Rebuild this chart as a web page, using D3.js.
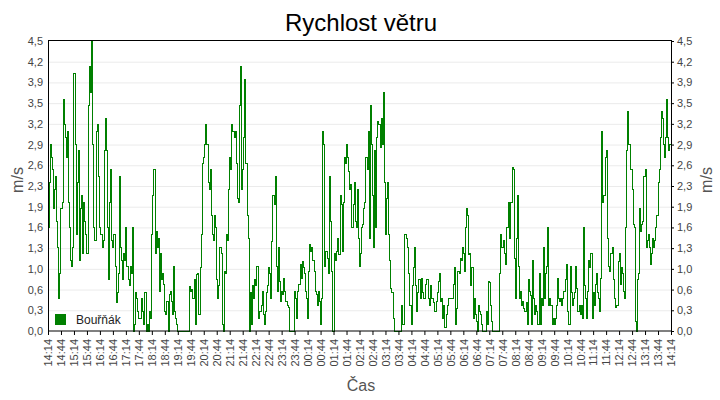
<!DOCTYPE html>
<html>
<head>
    <meta charset="utf-8">
    <title>Rychlost větru</title>
    <script src="https://d3js.org/d3.v7.min.js"></script>
    <style>
        body { margin: 0; background: #fff; }
        .title { font: 24px "Liberation Sans", Arial, sans-serif; fill: #000; }
        .axis-title { font: 16px "Liberation Sans", Arial, sans-serif; fill: #555; }
        .axis text { font: 11px "Liberation Sans", Arial, sans-serif; fill: #444; }
        .legend text { font: 12px "Liberation Sans", Arial, sans-serif; fill: #222; }
    </style>
</head>
<body>
    <svg width="720" height="400"></svg>
    <script>
        // wind speed (m/s), one value every 2.5 minutes from 14:14, split into 4 hour blocks
        var speed1 = [1.6, 2.3, 2.9, 2.7, 2.5, 1.9, 2.2, 2.4, 1.7, 1.3, 0.5, 0.9, 1.9, 2.0, 3.6, 3.2,
                      3.0, 2.7, 3.1, 2.0, 1.6, 1.1, 1.0, 1.3, 4.0, 2.9, 1.5, 2.3, 2.8, 1.1, 1.9, 2.1,
                      1.2, 2.0, 1.7, 1.5, 1.2, 3.5, 4.1, 3.7, 4.5, 2.9, 1.6, 1.4, 1.4, 3.1, 3.2, 2.4,
                      1.6, 1.5, 1.3, 1.4, 2.8, 3.3, 2.8, 1.6, 0.8, 2.0, 2.5, 1.4, 1.3, 1.5, 1.0, 0.45,
                      0.6, 0.9, 2.4, 1.3, 1.1, 0.8, 1.2, 1.1, 1.6, 1.0, 0.8, 0.7, 1.0, 0.9, 1.6, 0.0,
                      0.1, 0.6, 0.5, 0.3, 0.2, 0.2, 0.5, 0.3, 0.1, 0.6, 0.6, 0.0, 0.1, 0.0, 0.3, 0.2];
        var speed2 = [1.5, 2.1, 2.5, 1.2, 1.55, 1.3, 1.44, 0.62, 1.2, 0.8, 0.9, 0.72, 0.3, 0.25, 0.46, 0.0,
                      0.56, 0.62, 0.46, 0.25, 1.0, 0.3, 0.2, 0.1, 0, 0, 0, 0, 0, 0, 0, 0,
                      0, 0, 0, 0.69, 0.62, 0.65, 0.5, 0.8, 0.1, 0.87, 0.9, 0.25, 0.25, 0.98, 1.5, 2.6,
                      2.7, 2.9, 3.2, 2.9, 2.3, 2.2, 2.5, 1.8, 1.5, 1.4, 1.8, 1.6, 0.8, 0.5, 0.7, 1.3,
                      1.2, 0.1, 0.0, 0.93, 0.9, 1.5, 1.4, 2.2, 2.7, 2.5, 3.2, 3.1, 3.0, 3.1, 2.6, 2.06,
                      2.0, 3.5, 4.1, 2.2, 2.5, 3.0, 3.9, 2.6, 1.8, 1.44, 0.0, 0.6, 0.1, 0.7, 0.5, 0.8];
        var speed3 = [0.7, 1.0, 1.0, 0.2, 0.3, 0.4, 0.62, 0.25, 0.1, 0.3, 0.6, 0.7, 0.98, 0.9, 0.5, 1.39,
                      2.1, 1.96, 2.4, 1.0, 0.62, 1.29, 0.77, 0.46, 0.62, 0.56, 0.82, 0.62, 0.46, 0.4, 0.36, 0,
                      0, 0, 0, 0, 0.62, 0.5, 0.2, 0.62, 0.72, 1.03, 0.82, 1.08, 0.98, 0.9, 0.62, 0.5,
                      0.2, 0.93, 1.34, 1.24, 1.29, 1.1, 0.93, 0.62, 0.56, 0.4, 0.62, 0.46, 0.1, 0.5, 3.1, 2.9,
                      1.0, 1.24, 1.13, 0.9, 2.4, 1.7, 0.93, 0.0, 0.0, 1.2, 1.1, 1.24, 1.44, 1.18, 2.1, 1.96,
                      1.24, 2.0, 2.7, 2.6, 2.9, 2.7, 2.48, 2.2, 2.27, 1.6, 1.96, 2.3, 1.7, 1.6, 2.2, 1.44];
        var speed4 = [1.0, 1.2, 1.6, 1.65, 1.9, 2.0, 2.7, 2.5, 3.1, 1.44, 3.5, 2.9, 2.1, 1.29, 2.8, 1.6,
                      3.0, 3.25, 3.2, 2.84, 3.3, 2.9, 3.7, 2.3, 1.5, 2.06, 2.3, 1.5, 1.1, 0.66, 0.6, 0.2,
                      0, 0, 0, 0, 0, 0, 0, 0.4, 0.1, 0.1, 1.5, 1.44, 1.3, 0.9, 0.4, 0.4,
                      0.1, 0.7, 0.98, 1.29, 0.7, 0.3, 0.6, 0.8, 0.5, 0.82, 0.6, 0.5, 0.5, 0.72, 0.8, 0.8,
                      0.5, 0.4, 0.7, 0.5, 0.45, 0.3, 0.3, 0.46, 0.6, 0.77, 0.9, 0.46, 0.5, 0.2, 0.4, 0.05,
                      0.25, 0.4, 0.5, 0.5, 0.5, 0.5, 0.5, 0.72, 0.98, 0.1, 0.35, 0.93, 0.9, 1.13, 1.1, 1.3];
        var speed5 = [1.2, 0.93, 1.6, 1.9, 1.8, 1.18, 1.2, 0.7, 0.98, 0.2, 0.5, 0.25, 0.15, 0.0, 0.4, 0.3,
                      0.25, 0.1, 0, 0, 0, 0.3, 0.1, 0.77, 0.75, 0.4, 0.15, 0.0, 0, 0, 0, 0,
                      0, 0.9, 1.5, 1.3, 1.3, 1.4, 1.2, 1.03, 1.6, 1.6, 2.0, 1.44, 2.0, 2.53, 2.5, 1.13,
                      0.5, 1.44, 2.1, 1.0, 0.5, 0.62, 0.4, 0.46, 0.35, 0.3, 0.45, 0.1, 0.8, 0.62, 0.55, 0.1,
                      1.1, 0.5, 0.25, 0.4, 0.3, 0.1, 0.9, 0.1, 0.5, 0.4, 1.29, 0.5, 0.9, 1.0, 1.6, 0.4,
                      0.5, 0.4, 0.1, 0.2, 0.1, 0.2, 0.4, 0.82, 0.5, 0.46, 0.5, 0.4, 0.5, 0.62, 0.8, 1.03];
        var speed6 = [0.3, 0.1, 0.1, 1.0, 0.6, 0.4, 0.5, 0.6, 1.0, 0.66, 0.3, 0.4, 0.25, 0.4, 0.2, 1.6,
                      0.7, 0.5, 0.2, 0.62, 1.1, 0.98, 1.2, 0.2, 0.6, 0.4, 0.72, 0.9, 0.6, 0.5, 0.3, 0.82,
                      3.1, 2.0, 2.1, 2.7, 2.8, 1.44, 1.0, 0.93, 1.2, 1.2, 1.3, 0.8, 0.5, 0.36, 0.4, 1.08,
                      1.2, 0.72, 0.98, 0.9, 0.62, 0.5, 1.6, 2.8, 3.4, 2.9, 2.9, 2.5, 2.2, 1.65, 1.6, 0.15,
                      0, 0.8, 0.9, 1.9, 1.55, 1.65, 1.7, 2.4, 2.5, 1.3, 1.4, 1.5, 1.3, 1.03, 1.2, 1.44,
                      1.3, 1.4, 1.6, 1.8, 2.3, 2.5, 3.0, 3.4, 3.3, 2.9, 2.7, 3.0, 3.6, 3.0, 2.8, 2.9, 2.9];

        var xTickLabels = ["14:14", "14:44", "15:14", "15:44", "16:14", "16:44", "17:14", "17:44",
                           "18:14", "18:44", "19:14", "19:44", "20:14", "20:44", "21:14", "21:44",
                           "22:14", "22:44", "23:14", "23:44", "00:14", "00:44", "01:14", "01:44",
                           "02:14", "02:44", "03:14", "03:44", "04:14", "04:44", "05:14", "05:44",
                           "06:14", "06:44", "07:14", "07:44", "08:14", "08:44", "09:14", "09:44",
                           "10:14", "10:44", "11:14", "11:44", "12:14", "12:44", "13:14", "13:44", "14:14"];
        var yTickLabels = ["0,0", "0,3", "0,6", "1,0", "1,3", "1,6", "1,9", "2,3",
                           "2,6", "2,9", "3,2", "3,5", "3,9", "4,2", "4,5"];
        var seriesName = "Bouřňák";

        var svg = d3.select("svg"),
            margin = {top: 41, right: 49, bottom: 69, left: 48},
            width = +svg.attr("width") - margin.left - margin.right,
            height = +svg.attr("height") - margin.top - margin.bottom;

        var start = new Date(2020, 0, 1, 14, 14);
        var values = speed1.concat(speed2, speed3, speed4, speed5, speed6);
        var data = values.map(function(v, i) {
            return {time: d3.timeSecond.offset(start, i * 150), value: v};
        });
        var tickTimes = xTickLabels.map((d, i) => d3.timeMinute.offset(start, i * 30));
        var yMax = 4.5;
        var yTicks = yTickLabels.map((d, i) => i * yMax / (yTickLabels.length - 1));

        var x = d3.scaleTime().domain([start, d3.timeMinute.offset(start, 24 * 60)]).range([0, width]);
        var y = d3.scaleLinear().domain([0, yMax]).range([height, 0]);

        svg.append("text")
            .attr("class", "title")
            .attr("x", 361)
            .attr("y", 31)
            .attr("text-anchor", "middle")
            .text("Rychlost větru");

        var g = svg.append("g").attr("transform", `translate(${margin.left},${margin.top})`);

        // grid
        g.append("g")
            .selectAll("line")
            .data(yTicks.slice(1, -1))
            .enter().append("line")
            .attr("x1", 0).attr("x2", width)
            .attr("y1", d => y(d) + 0.5).attr("y2", d => y(d) + 0.5)
            .attr("stroke", "#ebebeb");

        var line = d3.line()
            .curve(d3.curveStepAfter)
            .x(d => x(d.time))
            .y(d => y(d.value));

        g.append("path")
            .datum(data)
            .attr("fill", "none")
            .attr("stroke", "#008000")
            .attr("stroke-width", 1)
            .attr("shape-rendering", "crispEdges")
            .attr("d", line);

        // axes
        var yLeft = g.append("g")
            .attr("class", "axis")
            .call(d3.axisLeft(y).tickValues(yTicks).tickFormat((d, i) => yTickLabels[i]).tickSize(0).tickPadding(5));
        yLeft.select(".domain").remove();

        var yRight = g.append("g")
            .attr("class", "axis")
            .attr("transform", `translate(${width},0)`)
            .call(d3.axisRight(y).tickValues(yTicks).tickFormat((d, i) => yTickLabels[i]).tickSize(3).tickPadding(3));
        yRight.select(".domain").remove();

        var xAxis = g.append("g")
            .attr("class", "axis")
            .attr("transform", `translate(0,${height})`)
            .call(d3.axisBottom(x).tickValues(tickTimes).tickFormat((d, i) => xTickLabels[i]).tickSize(4));
        xAxis.select(".domain").remove();
        xAxis.selectAll("text")
            .attr("transform", "rotate(-90)")
            .attr("text-anchor", "end")
            .attr("x", -8)
            .attr("y", 0)
            .attr("dy", "0.35em");

        // frame
        g.append("rect")
            .attr("x", 0.5).attr("y", -0.5)
            .attr("width", width).attr("height", height + 0.5)
            .attr("fill", "none")
            .attr("stroke", "#000");

        // axis titles
        svg.append("text")
            .attr("class", "axis-title")
            .attr("transform", `translate(23,${margin.top + height / 2 - 6}) rotate(-90)`)
            .attr("text-anchor", "middle")
            .text("m/s");
        svg.append("text")
            .attr("class", "axis-title")
            .attr("transform", `translate(712,${margin.top + height / 2 - 6}) rotate(-90)`)
            .attr("text-anchor", "middle")
            .text("m/s");
        svg.append("text")
            .attr("class", "axis-title")
            .attr("x", 361)
            .attr("y", 391)
            .attr("text-anchor", "middle")
            .text("Čas");

        // legend
        var legend = g.append("g").attr("class", "legend").attr("transform", `translate(7,${height - 17})`);
        legend.append("rect").attr("width", 11).attr("height", 11).attr("fill", "#008000");
        legend.append("text").attr("x", 21).attr("y", 10).text(seriesName);
    </script>
</body>
</html>
